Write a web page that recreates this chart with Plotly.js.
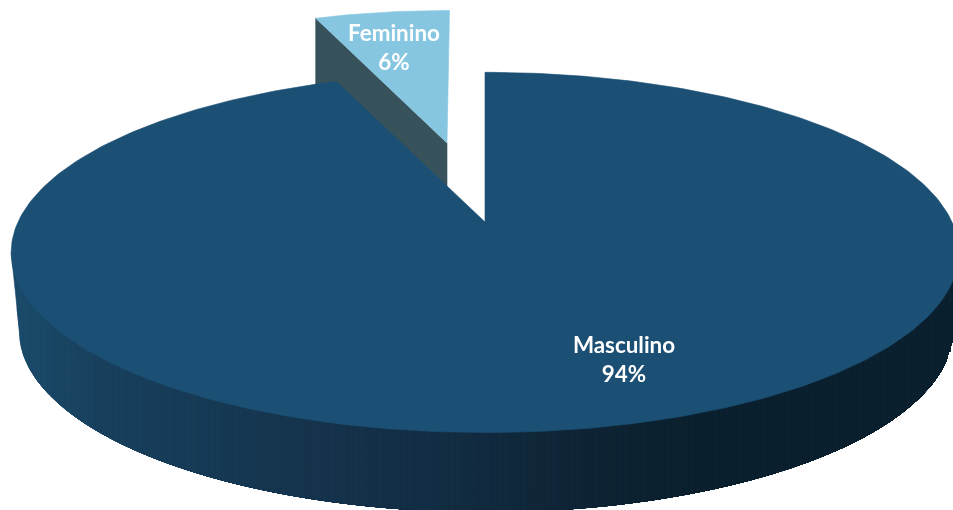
<!DOCTYPE html>
<html>
<head>
<meta charset="utf-8">
<script src="https://cdn.plot.ly/plotly-3.0.1.min.js"></script>
<style>html,body{margin:0;padding:0;background:#fff}#chart{width:953px;height:510px;filter:blur(0.5px)}</style>
</head>
<body>
<div id="chart"></div>
<script>
// Data
const categories = ["Masculino", "Feminino"];
const shares = [94, 6];

// Styles
const maleTop = "#1b4f74";
const femaleTop = "#87c6e1";
const femaleCut = "#38525c";
const wallStops = [[20,[26,74,106]],[100,[24,64,93]],[300,[21,52,77]],[450,[18,44,66]],[600,[14,35,51]],[700,[10,32,46]],[960,[10,32,46]]];

// Oblique-perspective projection of the pie disc onto the axes
const k = 0.169;
const topDisc = {cx:485, cy:222, sx:467, sy:175};
const floorDisc = {cx:486, cy:300, sx:460, sy:176};
const rad = d => d * Math.PI / 180;
function rim(d, t) {
  const w = 1 + k * Math.cos(rad(t));
  return [d.cx + d.sx * Math.sin(rad(t)) / w, d.cy - d.sy * Math.cos(rad(t)) / w];
}
function sector(d, from, to) {
  const xs = [d.cx], ys = [d.cy];
  const n = Math.ceil(Math.abs(to - from));
  for (let i = 0; i <= n; i++) {
    const p = rim(d, from + (to - from) * i / n);
    xs.push(p[0]); ys.push(p[1]);
  }
  xs.push(d.cx); ys.push(d.cy);
  return {xs, ys};
}
function wallColor(x) {
  for (let i = 1; i < wallStops.length; i++) {
    if (x <= wallStops[i][0]) {
      const a = wallStops[i-1], b = wallStops[i];
      const f = Math.max(0, (x - a[0]) / (b[0] - a[0]));
      const c = a[1].map((v, j) => Math.round(v + (b[1][j] - v) * f));
      return `rgb(${c.join(",")})`;
    }
  }
  return "rgb(10,32,46)";
}
function poly(xs, ys, color) {
  return {type:"scatter", mode:"lines", x:xs, y:ys, fill:"toself", fillcolor:color,
          line:{color:color, width:0.6}, hoverinfo:"skip", showlegend:false};
}

const traces = [];
const sweep = 360 * shares[1] / (shares[0] + shares[1]);

// Exploded slice: pulled away and so drawn a little smaller
const explodedDisc = {cx:447, cy:143, sx:467*0.9, sy:175*0.885};
const fem = sector(explodedDisc, 0.4, 0.4 - sweep);
const femLeft = rim(explodedDisc, 0.4 - sweep);
const drop = 80;
traces.push(poly([explodedDisc.cx, femLeft[0], femLeft[0], explodedDisc.cx, explodedDisc.cx],
                 [explodedDisc.cy, femLeft[1], femLeft[1] + drop, explodedDisc.cy + drop, explodedDisc.cy], femaleCut));
traces.push(poly(fem.xs, fem.ys, femaleTop));

// Lower outline of the side wall, left to right
const widest = 360 - rad(0) - Math.acos(-k) * 180 / Math.PI;
const outline = [];
const leftTop = rim(topDisc, widest);
outline.push(leftTop);
for (let t = widest; t >= 90; t -= 1) outline.push(rim(floorDisc, t));
outline.push([965, rim(floorDisc, 90)[1] - 10]);
outline.sort((p, q) => p[0] - q[0]);

// Painted left to right: each band covers everything to its right, so no seams appear
const wallTop = leftTop[1];
for (let x0 = leftTop[0]; x0 < 960; x0 += 6) {
  const rest = outline.filter(p => p[0] > x0);
  const i = outline.indexOf(rest[0]);
  const prev = outline[Math.max(i - 1, 0)], next = outline[i];
  const y0 = next[0] === prev[0] ? next[1] : prev[1] + (next[1] - prev[1]) * (x0 - prev[0]) / (next[0] - prev[0]);
  const xs = [x0].concat([x0], rest.map(p => p[0]), [rest[rest.length-1][0], x0]);
  const ys = [wallTop].concat([y0], rest.map(p => p[1]), [wallTop, wallTop]);
  traces.push(poly(xs, ys, wallColor(x0 + 3)));
}

// Top face of the large slice
const male = sector(topDisc, 0, 360 - sweep);
traces.push(poly(male.xs, male.ys, maleTop));

// Labels
traces.push({type:"scatter", mode:"text",
  x:[624, 394], y:[362, 49.5],
  text:categories.map((c, i) => `${c}<br>${shares[i]}%`),
  textposition:"middle center",
  textfont:{family:"Lato, sans-serif", size:22.4, color:"#ffffff", weight:700},
  hoverinfo:"skip", showlegend:false});

const layout = {
  width:953, height:510, margin:{l:0, r:0, t:0, b:0},
  paper_bgcolor:"#ffffff", plot_bgcolor:"#ffffff", showlegend:false,
  xaxis:{range:[0,953], visible:false, fixedrange:true},
  yaxis:{range:[510,0], visible:false, fixedrange:true}
};
Plotly.newPlot("chart", traces, layout, {displayModeBar:false, staticPlot:true});
</script>
</body>
</html>
